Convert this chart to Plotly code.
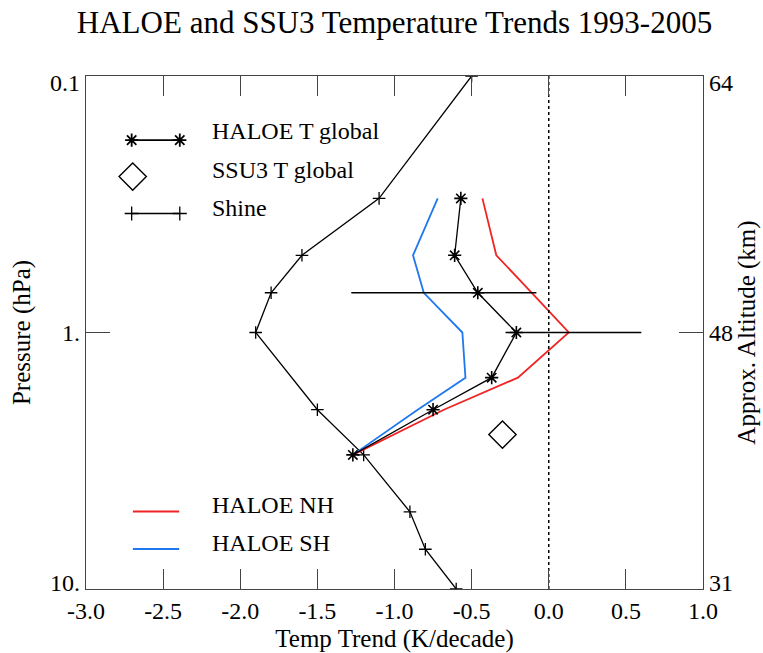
import plotly.graph_objects as go

# Pressure levels (hPa)
P_SHINE = [0.1, 0.3, 0.5, 0.7, 1.0, 2.0, 3.0, 5.0, 7.0, 10.0]
T_SHINE = [-0.5, -1.1, -1.6, -1.8, -1.9, -1.5, -1.2, -0.9, -0.8, -0.6]

P_HALOE = [0.3, 0.5, 0.7, 1.0, 1.5, 2.0, 3.0]
T_HALOE_GLOBAL = [-0.57, -0.61, -0.46, -0.21, -0.37, -0.75, -1.27]
T_HALOE_NH = [-0.43, -0.34, -0.11, 0.13, -0.20, -0.68, -1.27]
T_HALOE_SH = [-0.72, -0.88, -0.81, -0.56, -0.54, -0.85, -1.27]

P_SSU3 = [2.5]
T_SSU3 = [-0.30]

# Horizontal uncertainty ranges
P_RANGE = [0.7, 1.0]
RANGE_LO = [-1.28, -0.28]
RANGE_HI = [-0.08, 0.60]

X_TICKS = [-3.0, -2.5, -2.0, -1.5, -1.0, -0.5, 0.0, 0.5, 1.0]
P_TICKS = [0.1, 1.0, 10.0]
P_TICK_TEXT = ["0.1", "1.", "10."]
ALT_TICK_TEXT = ["64", "48", "31"]

FONT = "Liberation Serif"
BLACK = "#000000"
AXIS = "#444444"
RED = "#f02424"
BLUE = "#1f78ef"

W, H = 763, 653
MARGIN = dict(l=86, r=60, t=76, b=64)
PX_PER_DECADE = (H - MARGIN["t"] - MARGIN["b"]) / 2.0

# end labels sit just inside the frame instead of centred on the corner
LABEL_NUDGE_PX = [7, 0, -6]
P_LABEL_POS = [p * 10 ** (n / PX_PER_DECADE) for p, n in zip(P_TICKS, LABEL_NUDGE_PX)]

fig = go.Figure()

fig.add_trace(go.Scatter(
    x=T_SHINE, y=P_SHINE, mode="lines+markers",
    line=dict(color=BLACK, width=1.3),
    marker=dict(symbol="cross-thin-open", size=9, color=BLACK,
                line=dict(color=BLACK, width=1.3)),
    showlegend=False, hoverinfo="skip"))

fig.add_trace(go.Scatter(
    x=T_HALOE_NH, y=P_HALOE, mode="lines",
    line=dict(color=RED, width=1.8), showlegend=False, hoverinfo="skip"))

fig.add_trace(go.Scatter(
    x=T_HALOE_SH, y=P_HALOE, mode="lines",
    line=dict(color=BLUE, width=1.8), showlegend=False, hoverinfo="skip"))

fig.add_trace(go.Scatter(
    x=T_HALOE_GLOBAL, y=P_HALOE, mode="lines+markers",
    line=dict(color=BLACK, width=1.3),
    marker=dict(symbol="asterisk-open", size=11, color=BLACK,
                line=dict(color=BLACK, width=1.6)),
    showlegend=False, hoverinfo="skip"))

rx, ry = [], []
for p, lo, hi in zip(P_RANGE, RANGE_LO, RANGE_HI):
    rx += [lo, hi, None]
    ry += [p, p, None]
fig.add_trace(go.Scatter(
    x=rx, y=ry, mode="lines", yaxis="y4", line=dict(color=BLACK, width=1.3),
    showlegend=False, hoverinfo="skip"))

fig.add_trace(go.Scatter(
    x=T_SSU3, y=P_SSU3, mode="markers",
    marker=dict(symbol="diamond-open", size=21, color=BLACK,
                line=dict(color=BLACK, width=1.4)),
    showlegend=False, hoverinfo="skip"))

# zero-trend reference line, drawn on the altitude axis
fig.add_trace(go.Scatter(
    x=[0, 0], y=[P_TICKS[0], P_TICKS[-1]], mode="lines", yaxis="y2",
    line=dict(color=BLACK, width=1.5, dash="dot"),
    showlegend=False, hoverinfo="skip"))

# legend samples in plot-fraction coordinates
def sample(x, y, **kw):
    fig.add_trace(go.Scatter(x=x, y=y, xaxis="x3", yaxis="y3",
                             showlegend=False, hoverinfo="skip", **kw))

sample([0.074, 0.152], [0.875, 0.875], mode="lines+markers",
       line=dict(color=BLACK, width=1.6),
       marker=dict(symbol="asterisk-open", size=11, color=BLACK,
                   line=dict(color=BLACK, width=1.8)))
sample([0.0757], [0.804], mode="markers",
       marker=dict(symbol="diamond-open", size=21, color=BLACK,
                   line=dict(color=BLACK, width=1.4)))
sample([0.074, 0.152], [0.732, 0.732], mode="lines+markers",
       line=dict(color=BLACK, width=1.3),
       marker=dict(symbol="cross-thin-open", size=10, color=BLACK,
                   line=dict(color=BLACK, width=1.3)))
sample([0.076, 0.151], [0.151, 0.151], mode="lines", line=dict(color=RED, width=2))
sample([0.076, 0.151], [0.078, 0.078], mode="lines", line=dict(color=BLUE, width=2))

for txt, yy in [("HALOE T global", 0.893), ("SSU3 T global", 0.817),
                ("Shine", 0.743), ("HALOE NH", 0.164), ("HALOE SH", 0.090)]:
    fig.add_annotation(text=txt, x=0.201, y=yy, xref="paper", yref="paper",
                       xanchor="left", yanchor="middle", showarrow=False,
                       font=dict(family=FONT, size=24, color=BLACK))

common_y = dict(type="log", range=[1, -1], showgrid=False, zeroline=False,
                automargin=False)

fig.update_layout(
    width=W, height=H, autosize=False,
    margin=MARGIN,
    paper_bgcolor="white", plot_bgcolor="white",
    font=dict(family=FONT, size=21, color=BLACK),
    title=dict(text="HALOE and SSU3 Temperature Trends 1993-2005",
               x=0.5, xref="paper", xanchor="center",
               y=1 - 22 / H, yref="container", yanchor="middle",
               font=dict(family=FONT, size=31, color=BLACK)),
    xaxis=dict(range=[-3, 1], tickvals=X_TICKS,
               ticktext=[f"{v:.1f}" for v in X_TICKS],
               tickfont=dict(size=24), automargin=False,
               ticks="inside", ticklen=20, tickwidth=1.2, tickcolor=AXIS,
               showline=True, linecolor=AXIS, linewidth=1.2, mirror="ticks",
               showgrid=False, zeroline=False,
               title=dict(text="Temp Trend (K/decade)")),
    yaxis=dict(**common_y, tickvals=P_TICKS, showticklabels=False,
               ticks="inside", ticklen=24, tickwidth=1.2, tickcolor=AXIS,
               showline=True, linecolor=AXIS, linewidth=1.2, mirror="ticks"),
    yaxis4=dict(**common_y, overlaying="y", side="left",
                tickvals=P_LABEL_POS, ticktext=P_TICK_TEXT, ticks="",
                tickfont=dict(size=24), ticklabelstandoff=5, showline=False,
                title=dict(text="Pressure (hPa)", standoff=12)),
    yaxis2=dict(**common_y, overlaying="y", side="right",
                tickvals=P_LABEL_POS, ticktext=ALT_TICK_TEXT, ticks="",
                tickfont=dict(size=24), ticklabelstandoff=5, showline=False,
                title=dict(text="Approx. Altitude (km)", standoff=2)),
    xaxis3=dict(overlaying="x", range=[0, 1], visible=False),
    yaxis3=dict(overlaying="y", range=[0, 1], visible=False),
)

fig.write_html("out.html")
